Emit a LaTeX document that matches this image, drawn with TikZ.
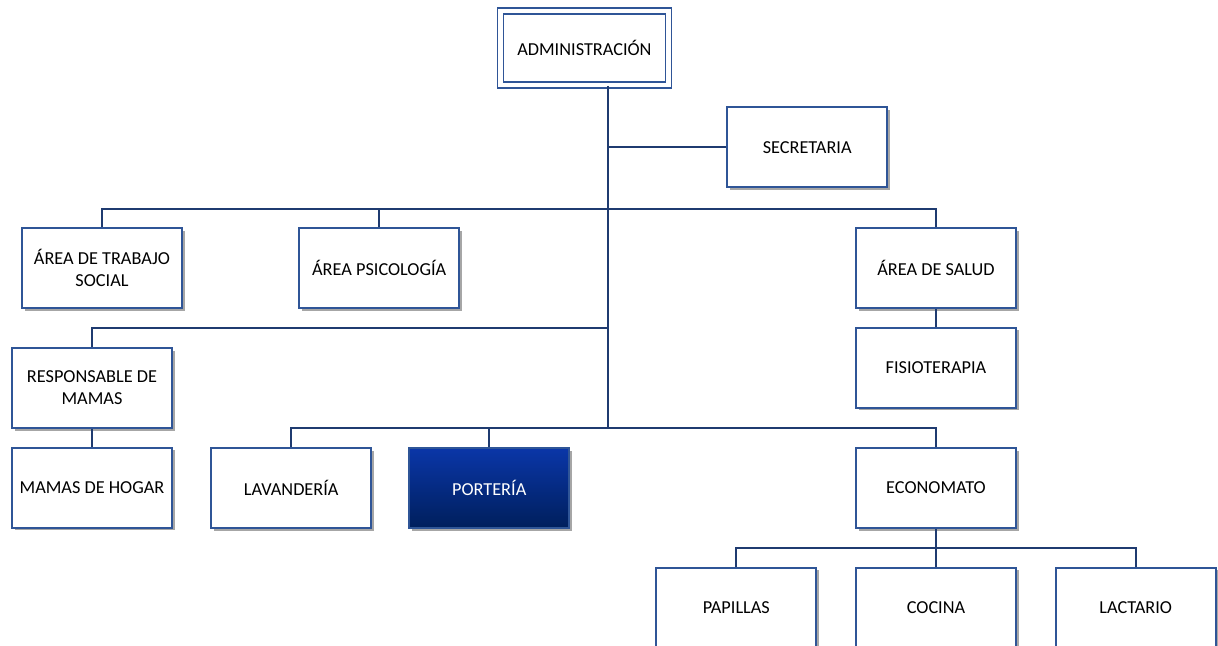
\documentclass[tikz,border=0pt]{standalone}
\usepackage{fontspec}
\setmainfont{Carlito}
\usepackage{tikz}
\usetikzlibrary{positioning, calc, shadows}
\definecolor{boxline}{HTML}{2F5597}
\definecolor{linkline}{HTML}{1F3B70}
\definecolor{portTop}{HTML}{0A36A8}
\definecolor{portBot}{HTML}{001F5C}

\begin{document}
\begin{tikzpicture}[node distance=0.45cm and 0.95cm,
    unit/.style={rectangle, draw=boxline, fill=white, line width=1.2pt, minimum width=4cm, minimum height=2cm, align=center, font=\fontsize{13}{15.5}\selectfont,
        drop shadow={shadow xshift=2pt, shadow yshift=-2pt, fill=black, opacity=0.35}},
    head/.style={unit, double=white, double distance=3pt, line width=1.1pt, minimum width=4.2cm, minimum height=1.85cm},
    dark/.style={unit, top color=portTop, bottom color=portBot, text=white},
    link/.style={draw=linkline, line width=1.4pt}]

    \useasboundingbox (0,0) rectangle (30.45,-16.15);

    \node [head] (admin) at (14.61,-1.2) {ADMINISTRACIÓN};
    \node [unit] (secretaria) at (20.18,-3.68) {SECRETARIA};
    \node [unit] (trabajo) at (2.55,-6.7) {ÁREA DE TRABAJO\\SOCIAL};
    \node [unit] (psico) at (9.48,-6.7) {ÁREA PSICOLOGÍA};
    \node [unit] (salud) at (23.4,-6.7) {ÁREA DE SALUD};
    \node [unit, below=of salud] (fisio) {FISIOTERAPIA};
    \node [unit] (resp) at (2.3,-9.7) {RESPONSABLE DE\\MAMAS};
    \node [unit, below=of resp] (mamas) {MAMAS DE HOGAR};
    \node [unit] (lavanderia) at (7.28,-12.2) {LAVANDERÍA};
    \node [dark] (porteria) at (12.23,-12.2) {PORTERÍA};
    \node [unit] (economato) at (23.4,-12.2) {ECONOMATO};
    \node [unit, below=0.95cm of economato] (cocina) {COCINA};
    \node [unit, left=of cocina] (papillas) {PAPILLAS};
    \node [unit, right=of cocina] (lactario) {LACTARIO};

    % trunk and buses
    \coordinate (trunk) at (15.2,-10.7);
    \coordinate (busA) at (0,-5.225);
    \coordinate (busB) at (0,-8.2);
    \coordinate (busC) at ($(economato.south)!0.5!(cocina.north)$);

    \draw [link] (admin.south -| trunk) -- (trunk);
    \draw [link] (secretaria.west) -- (secretaria.west -| trunk);
    \draw [link] (trabajo.north) |- (busA -| salud.north) -- (salud.north);
    \draw [link] (psico.north) -- (psico.north |- busA);
    \draw [link] (resp.north) |- (busB -| trunk);
    \draw [link] (salud) -- (fisio);
    \draw [link] (resp) -- (mamas);
    \draw [link] (lavanderia.north) |- (trunk) -| (economato.north);
    \draw [link] (porteria.north) -- (porteria.north |- trunk);
    \draw [link] (economato) -- (cocina);
    \draw [link] (papillas.north) |- (busC) -| (lactario.north);
\end{tikzpicture}
\end{document}
